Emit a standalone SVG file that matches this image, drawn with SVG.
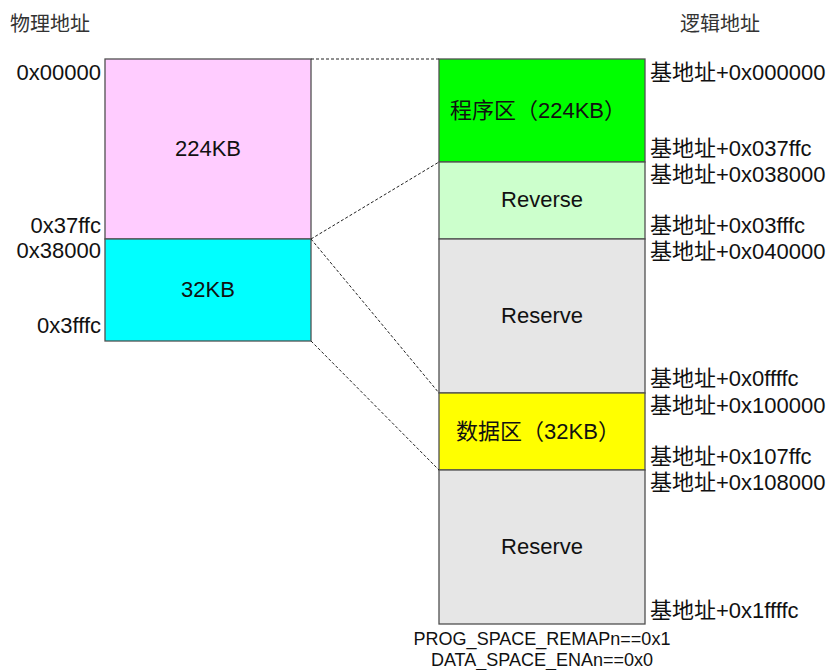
<svg xmlns="http://www.w3.org/2000/svg" width="826" height="670" viewBox="0 0 826 670">
<style>
text{font-family:"Liberation Sans","Noto Sans CJK SC",sans-serif;font-size:22px;fill:#111}
.t{font-family:"Noto Sans CJK SC",sans-serif;font-size:20px;fill:#333}
.m{text-anchor:middle}
.e{text-anchor:end}
.s{font-size:18px}
.box{stroke:#505050;stroke-width:1.3}
.dash{stroke:#222;stroke-width:1;stroke-dasharray:3 2;fill:none}
</style>
<rect width="826" height="670" fill="#fff"/>
<text class="t" x="10" y="31">物理地址</text>
<text class="t" x="680" y="31">逻辑地址</text>
<g id="phys-224">
<rect class="box" x="105" y="59" width="206" height="180" fill="#FFCCFF"/>
<text class="m" x="208" y="156">224KB</text>
</g>
<g id="phys-32">
<rect class="box" x="105" y="239" width="206" height="102" fill="#00FFFF"/>
<text class="m" x="208" y="297">32KB</text>
</g>
<g id="phys-labels">
<text class="e" x="101" y="80">0x00000</text>
<text class="e" x="101" y="233">0x37ffc</text>
<text class="e" x="101" y="258">0x38000</text>
<text class="e" x="101" y="333">0x3fffc</text>
</g>
<g id="prog">
<rect class="box" x="439" y="59" width="206" height="103" fill="#00FF00"/>
<text class="m" x="538" y="118">程序区（224KB）</text>
</g>
<g id="reverse">
<rect class="box" x="439" y="162" width="206" height="77" fill="#CCFFCC"/>
<text class="m" x="542" y="207">Reverse</text>
</g>
<g id="reserve1">
<rect class="box" x="439" y="239" width="206" height="154" fill="#E6E6E6"/>
<text class="m" x="542" y="323">Reserve</text>
</g>
<g id="data">
<rect class="box" x="439" y="393" width="206" height="77" fill="#FFFF00"/>
<text class="m" x="538" y="439">数据区（32KB）</text>
</g>
<g id="reserve2">
<rect class="box" x="439" y="470" width="206" height="154" fill="#E6E6E6"/>
<text class="m" x="542" y="554">Reserve</text>
</g>
<g id="logic-labels">
<text x="650" y="80">基地址+0x000000</text>
<text x="650" y="156">基地址+0x037ffc</text>
<text x="650" y="182">基地址+0x038000</text>
<text x="650" y="233">基地址+0x03fffc</text>
<text x="650" y="259">基地址+0x040000</text>
<text x="650" y="386">基地址+0x0ffffc</text>
<text x="650" y="413">基地址+0x100000</text>
<text x="650" y="464">基地址+0x107ffc</text>
<text x="650" y="490">基地址+0x108000</text>
<text x="650" y="618">基地址+0x1ffffc</text>
</g>
<g id="conditions">
<text class="m s" x="542" y="645">PROG_SPACE_REMAPn==0x1</text>
<text class="m s" x="542" y="666">DATA_SPACE_ENAn==0x0</text>
</g>
<g id="connectors">
<line class="dash" x1="311" y1="59" x2="439" y2="59"/>
<line class="dash" x1="311" y1="239" x2="439" y2="162"/>
<line class="dash" x1="311" y1="239" x2="439" y2="393"/>
<line class="dash" x1="311" y1="341" x2="439" y2="470"/>
</g>
</svg>
